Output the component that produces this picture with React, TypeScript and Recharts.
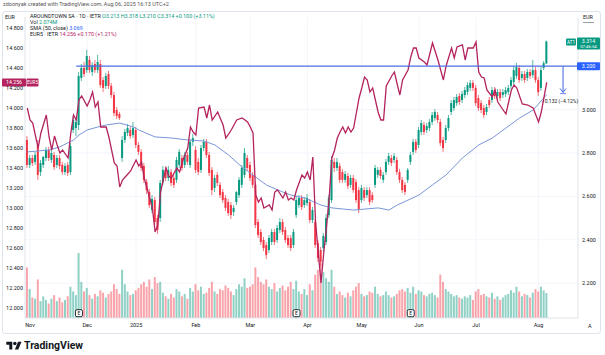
import React from 'react';
import { ComposedChart, Bar, Line, XAxis, YAxis, CartesianGrid, ReferenceLine, ReferenceDot } from 'recharts';

const FONT = 'Roboto, "Noto Sans", Arial, sans-serif';
const TEAL = '#089981';
const RED = '#f23645';
const MAG = '#b4235e';
const SMA_C = '#7896d8';
const HL = '#4d6fe4';

// daily bars, first bar index = -1 (Nov 1 2024 = 0)
const FIRST_DAY = -1;
const ohlc: number[][] = [
  [2.860,2.878,2.731,2.745],[2.745,2.791,2.731,2.777],[2.777,2.791,2.740,2.754],[2.759,2.805,2.745,2.791],
  [2.837,2.860,2.676,2.699],[2.712,2.768,2.694,2.754],[2.745,2.786,2.731,2.782],[2.777,2.828,2.763,2.814],
  [2.814,2.828,2.763,2.777],[2.768,2.814,2.754,2.800],[2.791,2.805,2.722,2.735],[2.745,2.791,2.731,2.777],
  [2.777,2.791,2.726,2.740],[2.745,2.759,2.699,2.712],[2.712,2.754,2.699,2.740],[2.745,2.759,2.694,2.708],
  [2.712,2.846,2.699,2.832],[2.906,2.970,2.892,2.952],[2.915,2.957,2.878,2.943],[2.929,3.173,2.906,3.155],
  [3.146,3.210,3.132,3.192],[3.192,3.219,3.150,3.164],[3.182,3.275,3.169,3.247],[3.229,3.247,3.169,3.182],
  [3.173,3.219,3.155,3.205],[3.210,3.229,3.169,3.182],[3.182,3.252,3.169,3.219],[3.210,3.229,3.100,3.113],
  [3.136,3.150,3.081,3.100],[3.109,3.169,3.095,3.155],[3.164,3.178,3.095,3.109],[3.109,3.123,3.053,3.067],
  [3.067,3.081,2.970,2.984],[2.998,3.012,2.957,2.970],[2.980,2.989,2.952,2.961],[2.777,2.878,2.759,2.860],
  [2.860,2.911,2.846,2.897],[2.892,2.934,2.878,2.915],[2.906,2.920,2.865,2.878],[2.883,2.943,2.869,2.915],
  [2.906,2.920,2.823,2.837],[2.837,2.851,2.791,2.805],[2.805,2.818,2.717,2.731],[2.740,2.754,2.662,2.676],
  [2.666,2.680,2.611,2.629],[2.620,2.634,2.547,2.560],[2.537,2.606,2.523,2.588],[2.583,2.597,2.468,2.482],
  [2.500,2.514,2.427,2.445],[2.500,2.676,2.482,2.662],[2.666,2.740,2.653,2.722],[2.722,2.735,2.671,2.685],
  [2.685,2.740,2.671,2.722],[2.712,2.726,2.648,2.662],[2.685,2.699,2.639,2.653],[2.676,2.782,2.662,2.768],
  [2.745,2.818,2.731,2.805],[2.777,2.791,2.717,2.731],[2.745,2.805,2.731,2.791],[2.791,2.805,2.745,2.759],
  [2.745,2.865,2.731,2.851],[2.851,2.888,2.832,2.869],[2.814,2.832,2.708,2.722],[2.759,2.777,2.699,2.712],
  [2.722,2.837,2.708,2.823],[2.823,2.865,2.809,2.851],[2.851,2.865,2.777,2.791],[2.791,2.805,2.694,2.708],
  [2.722,2.735,2.606,2.629],[2.639,2.699,2.620,2.685],[2.699,2.712,2.648,2.662],[2.653,2.666,2.593,2.606],
  [2.620,2.634,2.570,2.583],[2.593,2.606,2.533,2.547],[2.574,2.588,2.510,2.523],[2.560,2.574,2.496,2.514],
  [2.528,2.560,2.510,2.547],[2.574,2.625,2.560,2.620],[2.606,2.689,2.593,2.676],[2.653,2.745,2.639,2.731],
  [2.699,2.823,2.685,2.800],[2.777,2.791,2.717,2.731],[2.745,2.759,2.671,2.685],[2.699,2.712,2.639,2.653],
  [2.653,2.666,2.454,2.468],[2.482,2.496,2.408,2.422],[2.436,2.450,2.376,2.390],[2.399,2.413,2.348,2.362],
  [2.376,2.390,2.311,2.330],[2.353,2.422,2.339,2.408],[2.390,2.450,2.376,2.436],[2.436,2.450,2.376,2.390],
  [2.399,2.468,2.385,2.454],[2.445,2.500,2.431,2.482],[2.482,2.496,2.422,2.436],[2.445,2.459,2.385,2.399],
  [2.408,2.422,2.362,2.376],[2.408,2.422,2.348,2.362],[2.376,2.450,2.362,2.436],[2.514,2.602,2.500,2.583],
  [2.560,2.606,2.547,2.593],[2.593,2.606,2.537,2.551],[2.560,2.597,2.547,2.583],[2.570,2.611,2.556,2.593],
  [2.574,2.588,2.477,2.491],[2.491,2.551,2.477,2.537],[2.482,2.496,2.362,2.376],[2.385,2.399,2.298,2.316],
  [2.353,2.367,2.279,2.298],[2.362,2.431,2.344,2.418],[2.390,2.519,2.376,2.500],[2.514,2.606,2.500,2.593],
  [2.583,2.786,2.570,2.768],[2.759,2.777,2.712,2.731],[2.731,2.777,2.717,2.759],[2.740,2.754,2.662,2.676],
  [2.712,2.726,2.662,2.676],[2.676,2.717,2.662,2.703],[2.694,2.708,2.634,2.648],[2.653,2.699,2.639,2.685],
  [2.685,2.699,2.616,2.629],[2.666,2.680,2.570,2.583],[2.629,2.643,2.523,2.537],[2.583,2.653,2.570,2.639],
  [2.629,2.643,2.579,2.593],[2.606,2.643,2.593,2.629],[2.629,2.643,2.560,2.574],[2.606,2.620,2.570,2.583],
  [2.653,2.745,2.639,2.731],[2.699,2.735,2.685,2.722],[2.722,2.735,2.680,2.694],[2.676,2.712,2.662,2.699],
  [2.712,2.772,2.699,2.759],[2.759,2.800,2.745,2.786],[2.777,2.791,2.740,2.754],[2.768,2.800,2.754,2.786],
  [2.768,2.782,2.699,2.712],[2.712,2.726,2.662,2.676],[2.676,2.689,2.616,2.629],[2.653,2.666,2.606,2.620],
  [2.676,2.731,2.662,2.722],[2.759,2.805,2.745,2.791],[2.805,2.865,2.791,2.851],[2.851,2.865,2.800,2.814],
  [2.837,2.920,2.823,2.906],[2.897,2.952,2.883,2.938],[2.929,2.943,2.883,2.897],[2.906,2.938,2.892,2.924],
  [2.915,2.957,2.901,2.943],[2.943,2.989,2.929,2.975],[2.961,3.003,2.948,2.989],[2.975,2.989,2.938,2.952],
  [2.943,2.957,2.832,2.846],[2.860,2.874,2.805,2.823],[2.860,2.929,2.846,2.915],[2.915,2.975,2.901,2.961],
  [2.989,3.044,2.975,3.030],[3.007,3.058,2.994,3.044],[3.030,3.072,3.017,3.058],[3.063,3.076,3.021,3.035],
  [3.044,3.086,3.030,3.072],[3.067,3.104,3.053,3.090],[3.081,3.127,3.067,3.113],[3.100,3.136,3.086,3.123],
  [3.123,3.136,3.086,3.100],[3.100,3.113,3.017,3.030],[3.053,3.067,2.994,3.007],[3.030,3.044,2.984,2.998],
  [3.007,3.021,2.961,2.975],[2.989,3.026,2.975,3.012],[3.044,3.058,3.007,3.021],[3.044,3.104,3.030,3.090],
  [3.090,3.104,3.049,3.063],[3.063,3.095,3.049,3.081],[3.081,3.095,3.040,3.053],[3.067,3.095,3.053,3.081],
  [3.072,3.104,3.058,3.090],[3.081,3.113,3.067,3.100],[3.109,3.150,3.095,3.136],[3.127,3.201,3.113,3.182],
  [3.155,3.215,3.141,3.196],[3.192,3.205,3.123,3.136],[3.146,3.178,3.132,3.164],[3.164,3.178,3.123,3.136],
  [3.146,3.187,3.132,3.173],[3.173,3.187,3.141,3.155],[3.159,3.229,3.146,3.182],[3.182,3.196,3.123,3.136],
  [3.136,3.150,3.063,3.081],[3.100,3.196,3.086,3.182],[3.192,3.224,3.182,3.214],[3.213,3.318,3.210,3.314],
];

// volume in millions
const volumes: number[] = [
  4.2,2.4,1.7,1.6,3.2,1.4,1.8,1.5,1.2,1.6,1.9,1.4,1.7,1.3,1.5,1.8,2.6,
  2.2,1.9,5.4,3.0,2.2,2.5,1.9,1.6,2.0,1.8,2.3,2.1,1.7,2.0,2.2,2.8,2.4,2.0,
  4.0,2.8,2.2,1.9,2.0,2.3,2.5,2.8,3.0,2.6,3.2,2.4,3.4,2.9,
  3.0,2.1,1.8,1.6,2.0,1.7,2.4,2.2,1.8,2.0,1.6,2.5,2.2,2.8,2.3,2.6,2.0,2.1,2.5,3.0,2.2,2.0,2.4,2.3,2.7,2.5,2.2,1.9,
  2.4,2.8,2.6,3.3,2.5,2.6,2.8,4.2,3.4,3.0,2.8,3.2,2.6,2.4,2.9,2.2,2.5,2.7,2.3,2.6,3.0,2.4,
  3.1,2.2,2.0,2.4,1.9,2.8,2.3,3.6,4.0,4.6,3.8,3.3,3.0,4.0,
  2.6,2.0,2.2,1.9,1.7,2.1,1.8,2.3,2.6,2.9,2.0,1.8,1.9,2.2,2.1,2.6,2.0,1.8,1.9,2.2,1.9,1.7,1.8,2.0,2.3,2.4,2.2,2.5,2.1,2.6,2.0,
  2.3,2.2,1.9,1.8,2.0,2.1,1.9,1.7,3.6,3.0,2.4,2.2,2.0,1.8,1.9,1.7,1.6,1.8,1.7,1.9,1.5,2.2,2.4,1.9,2.0,1.8,1.7,2.1,1.6,1.8,1.5,1.7,1.9,2.0,2.3,2.1,2.6,2.2,1.8,2.0,1.9,1.7,2.1,2.4,2.2,2.6,2.3,2.074,
];

// compared symbol EUR5 (left scale)
const eurDay = [-1,0,1,3,4,6,7,8,9,10,11,12,14,15,16,17,18,19,21,22,23,24,25,26,28,29,31,32,33,34,36,37,39,40,41,42,43,45,46,47,48,50,51,52,54,55,56,58,59,60,61,62,64,65,66,67,69,71,72,74,76,78,80,81,82,83,84,85,86,88,89,90,91,93,94,95,96,97,98,100,101,102,103,104,105,107,108,109,110,111,112,113,114,115,116,117,118,119,120,121,122,123,124,125,126,128,129,130,131,133,134,135,136,137,139,140,141,142,143,145,146,148,150,152,153,155,156,157,159,160,161,163,164,165,166,167,168,170,171,172,175,176,177,178,179,181,183,185,187,188,190];
const eurClose = [14.00,13.88,13.85,13.60,13.75,13.93,13.71,13.58,13.72,13.63,13.55,13.58,13.50,13.75,13.93,13.88,14.08,14.12,14.02,14.08,14.16,14.01,14.06,13.81,13.81,13.71,13.45,13.42,13.21,13.28,13.34,13.37,13.48,13.42,13.46,13.30,13.20,13.00,12.76,12.83,13.16,13.40,13.32,13.30,13.40,13.36,13.46,13.60,13.81,13.76,13.73,14.00,14.01,13.90,14.03,13.88,13.96,13.83,13.70,13.78,13.88,13.90,13.86,13.81,13.75,13.13,13.06,13.10,13.00,13.03,12.98,13.16,13.18,13.10,13.16,13.08,13.10,13.08,13.18,13.33,13.30,13.36,13.28,13.51,12.86,12.25,12.55,12.80,13.10,13.50,13.58,13.70,13.76,13.81,13.75,13.81,13.76,13.80,13.95,14.10,14.20,14.31,14.28,14.16,14.20,13.96,13.88,13.88,14.22,14.32,14.36,14.24,14.13,14.28,14.38,14.51,14.60,14.60,14.50,14.46,14.43,14.65,14.48,14.28,14.42,14.60,14.50,14.61,14.63,14.48,14.60,14.60,14.66,14.36,14.31,14.30,14.18,14.11,14.18,14.06,13.94,14.06,14.18,14.23,14.20,14.04,14.03,14.00,13.86,13.96,14.256];

// SMA(50, close) (right scale)
const smaDay = [-1,7,11,16,18,21,25,28,33,38,40,46,52,58,64,68,73,78,83,87,93,96,101,107,111,119,128,132,135,139,143,148,153,159,165,170,175,180,185,190];
const smaVal = [2.805,2.814,2.828,2.860,2.883,2.906,2.920,2.929,2.938,2.920,2.906,2.874,2.869,2.860,2.855,2.837,2.791,2.735,2.689,2.652,2.620,2.606,2.593,2.560,2.547,2.537,2.547,2.537,2.560,2.583,2.606,2.653,2.699,2.777,2.837,2.869,2.915,2.961,2.998,3.069];

const monthTicks = [0,21,39,61,81,102,122,143,164,187];
const monthLabels = ['Nov','Dec','2025','Feb','Mar','Apr','May','Jun','Jul','Aug'];
const leftTicks = [12.0,12.2,12.4,12.6,12.8,13.0,13.2,13.4,13.6,13.8,14.0,14.2,14.4,14.6,14.8];
const rightTicks = [2.2,2.4,2.6,2.8,3.0];
const levelPrice = 3.2;
const lastPrice = 3.314;
const lastEur = 14.256;
const smaLast = 3.069;
const eventDays = [18,98,140];

const X_DOMAIN: [number, number] = [-1.84, 201.5];

const data = ohlc.map((b, k) => ({
  i: k + FIRST_DAY, o: b[0], h: b[1], l: b[2], c: b[3], vol: volumes[k], up: b[3] >= b[0],
}));
const eurData = eurDay.map((d, k) => ({ i: d, v: eurClose[k] }));
const smaData = smaDay.map((d, k) => ({ i: d, v: smaVal[k] }));

const Candle = (props: any) => {
  const { x, y, width, height, payload } = props;
  if (!payload) return null;
  const { o, h, l, c } = payload;
  const span = h - l;
  const py = (v: number) => (span === 0 ? y : y + ((h - v) / span) * height);
  const top = py(Math.max(o, c));
  const bot = py(Math.min(o, c));
  const color = c >= o ? TEAL : RED;
  const cx = x + width / 2;
  return (
    <g>
      <line x1={cx} x2={cx} y1={y} y2={y + height} stroke={color} strokeWidth={0.7} />
      <rect x={x} y={top} width={width} height={Math.max(bot - top, 0.8)} fill={color} />
    </g>
  );
};

const VolBar = (props: any) => {
  const { x, y, width, height, payload } = props;
  if (!payload) return null;
  return <rect x={x} y={y} width={width} height={Math.max(height, 0)} fill={payload.up ? TEAL : RED} fillOpacity={0.45} />;
};

const tickStyle = { fontSize: 5.5, fill: '#131722', fontFamily: FONT };

export default function App() {
  return (
    <div style={{ position: 'absolute', left: 0, top: 0, width: 605, height: 355, background: '#fff', fontFamily: FONT, overflow: 'hidden', color: '#131722' }}>
      <div style={{ position: 'absolute', left: 3, top: 1, fontSize: 5.5, color: '#555', whiteSpace: 'nowrap' }}>
        zdoonyak created with TradingView.com, Aug 06, 2025 16:13 UTC+2
      </div>
      <div style={{ position: 'absolute', left: 2, top: 11, width: 599, height: 323, border: '1px solid #e0e3eb', borderRadius: 3, boxSizing: 'border-box' }} />
      <div style={{ position: 'absolute', left: 0, top: 0 }}>
        <ComposedChart width={605} height={335} data={data} margin={{ top: 17, right: 0, bottom: 0, left: 0 }}>
          <CartesianGrid yAxisId="right" stroke="#f0f3fa" strokeWidth={0.8} horizontalValues={rightTicks} verticalValues={monthTicks} />
          <XAxis dataKey="i" type="number" domain={X_DOMAIN} allowDataOverflow ticks={monthTicks}
            tickFormatter={(v: number) => monthLabels[monthTicks.indexOf(v)] ?? ''}
            tick={tickStyle} tickLine={false} tickSize={3} tickMargin={2} height={17}
            axisLine={{ stroke: '#e0e3eb' }} interval={0} />
          <XAxis xAxisId="v" dataKey="i" type="number" domain={X_DOMAIN} allowDataOverflow hide />
          <YAxis yAxisId="left" orientation="left" width={25} domain={[11.9, 14.91]} allowDataOverflow ticks={leftTicks}
            tickFormatter={(v: number) => v.toFixed(3)} tick={tickStyle} tickLine={false} tickSize={1} tickMargin={1}
            axisLine={{ stroke: '#e0e3eb' }} interval={0} />
          <YAxis yAxisId="right" orientation="right" width={27} domain={[2.0396, 3.4267]} allowDataOverflow ticks={rightTicks}
            tickFormatter={(v: number) => v.toFixed(3)} tick={tickStyle} tickLine={false} tickSize={2} tickMargin={2}
            axisLine={{ stroke: '#e0e3eb' }} interval={0} />
          <YAxis yAxisId="vol" hide domain={[0, 25]} allowDataOverflow />

          <Bar xAxisId="v" yAxisId="vol" dataKey="vol" barSize={2} shape={VolBar} isAnimationActive={false} />
          <Bar yAxisId="right" dataKey={(d: any) => [d.l, d.h]} barSize={2} shape={Candle} isAnimationActive={false} />

          <Line yAxisId="right" data={smaData} dataKey="v" type="linear" stroke={SMA_C} strokeWidth={1} dot={false} isAnimationActive={false} />
          <Line yAxisId="left" data={eurData} dataKey="v" type="linear" stroke={MAG} strokeWidth={1.3} dot={false} isAnimationActive={false} />

          <ReferenceLine yAxisId="right" segment={[{ x: 17, y: levelPrice }, { x: X_DOMAIN[1], y: levelPrice }]} stroke={HL} strokeWidth={1.3} />
          <ReferenceLine yAxisId="right" segment={[{ x: 196, y: levelPrice }, { x: 196, y: smaLast + 0.01 }]} stroke={HL} strokeWidth={1.1} />
          <ReferenceDot yAxisId="right" x={196} y={smaLast + 0.01} r={0} shape={(p: any) => (
            <g>
              <path d={`M${p.cx - 3},${p.cy - 4} L${p.cx},${p.cy} L${p.cx + 3},${p.cy - 4}`} stroke={HL} strokeWidth={1} fill="none" />
              <line x1={p.cx - 3} x2={p.cx + 3} y1={p.cy + 1.2} y2={p.cy + 1.2} stroke={HL} strokeWidth={0.8} />
              <text x={p.cx - 3} y={p.cy + 10.5} fontSize={5} textAnchor="middle" fill="#131722" fontFamily={FONT}>−0.132 (−4.12%)</text>
            </g>
          )} />
          <ReferenceDot yAxisId="right" x={X_DOMAIN[1]} y={levelPrice} r={0} ifOverflow="visible" shape={(p: any) => (
            <g>
              <rect x={p.cx - 1} y={p.cy - 4} width={23} height={8} rx={1} fill="#2962ff" />
              <text x={p.cx + 10.5} y={p.cy + 2} fontSize={5.3} textAnchor="middle" fill="#fff" fontFamily={FONT}>3.200</text>
            </g>
          )} />
          <ReferenceDot yAxisId="right" x={X_DOMAIN[1]} y={lastPrice} r={0} ifOverflow="visible" shape={(p: any) => (
            <g>
              <rect x={p.cx - 12} y={p.cy - 3} width={10} height={7} rx={1} fill={TEAL} />
              <text x={p.cx - 7} y={p.cy + 2.2} fontSize={4.6} textAnchor="middle" fill="#fff" fontFamily={FONT}>AT1</text>
              <rect x={p.cx - 1} y={p.cy - 4} width={23} height={12} rx={1} fill={TEAL} />
              <text x={p.cx + 10.5} y={p.cy + 1.8} fontSize={5.3} textAnchor="middle" fill="#fff" fontFamily={FONT}>3.314</text>
              <text x={p.cx + 10.5} y={p.cy + 6.6} fontSize={4.3} textAnchor="middle" fill="#fff" fontFamily={FONT}>07:46:54</text>
            </g>
          )} />
          <ReferenceDot yAxisId="left" x={X_DOMAIN[0]} y={lastEur} r={0} ifOverflow="visible" shape={(p: any) => (
            <g>
              <rect x={p.cx - 23} y={p.cy - 4} width={24} height={8} rx={1} fill={MAG} />
              <text x={p.cx - 11} y={p.cy + 2} fontSize={5.2} textAnchor="middle" fill="#fff" fontFamily={FONT}>14.256</text>
              <rect x={p.cx + 1.5} y={p.cy - 4} width={12} height={8} rx={1} fill={MAG} />
              <text x={p.cx + 7.5} y={p.cy + 2} fontSize={4.6} textAnchor="middle" fill="#fff" fontFamily={FONT}>EUR5</text>
            </g>
          )} />
          {eventDays.map((d) => (
            <ReferenceDot key={d} xAxisId="v" yAxisId="vol" x={d} y={0.4} r={0} ifOverflow="visible" shape={(p: any) => (
              <g>
                <rect x={p.cx - 3.5} y={p.cy - 3.5} width={7} height={7} rx={1.5} fill="#fff" stroke="#131722" strokeWidth={0.9} />
                <text x={p.cx} y={p.cy + 2} fontSize={5} textAnchor="middle" fill="#131722" fontFamily={FONT}>E</text>
              </g>
            )} />
          ))}
        </ComposedChart>
      </div>

      {/* legend */}
      <div style={{ position: 'absolute', left: 30, top: 12.5, fontSize: 5.4, lineHeight: '6px', whiteSpace: 'nowrap' }}>
        <div>AROUNDTOWN SA · 1D · IETR <span style={{ color: TEAL }}>O3.213 H3.318 L3.210 C3.314 +0.100 (+3.11%)</span></div>
        <div>Vol <span style={{ color: TEAL }}>2.074M</span></div>
        <div>SMA (50, close) <span style={{ color: '#2962ff' }}>3.069</span></div>
        <div>EUR5 · IETR <span style={{ color: MAG }}>14.256 +0.170 (+1.21%)</span></div>
      </div>
      <div style={{ position: 'absolute', left: 5, top: 14, fontSize: 5.4 }}>EUR</div>
      <div style={{ position: 'absolute', left: 583, top: 14, fontSize: 5.4 }}>EUR</div>
      <div style={{ position: 'absolute', left: 583, top: 22, width: 11, height: 0, borderTop: '1px solid #9aa0ab' }} />
      <div style={{ position: 'absolute', left: 588, top: 323, fontSize: 5.5, color: '#131722' }}>A</div>

      {/* footer logo */}
      <svg style={{ position: 'absolute', left: 5, top: 340 }} width={18} height={12} viewBox="0 0 36 28">
        <path d="M14 22H7V11H0V4h14v18z" fill="#131722" />
        <circle cx="20" cy="8" r="4" fill="#131722" />
        <path d="M28 22h-8L27.5 4h8L28 22z" fill="#131722" />
      </svg>
      <div style={{ position: 'absolute', left: 24, top: 339, fontSize: 10.5, fontWeight: 700, color: '#131722', whiteSpace: 'nowrap' }}>TradingView</div>
    </div>
  );
}
